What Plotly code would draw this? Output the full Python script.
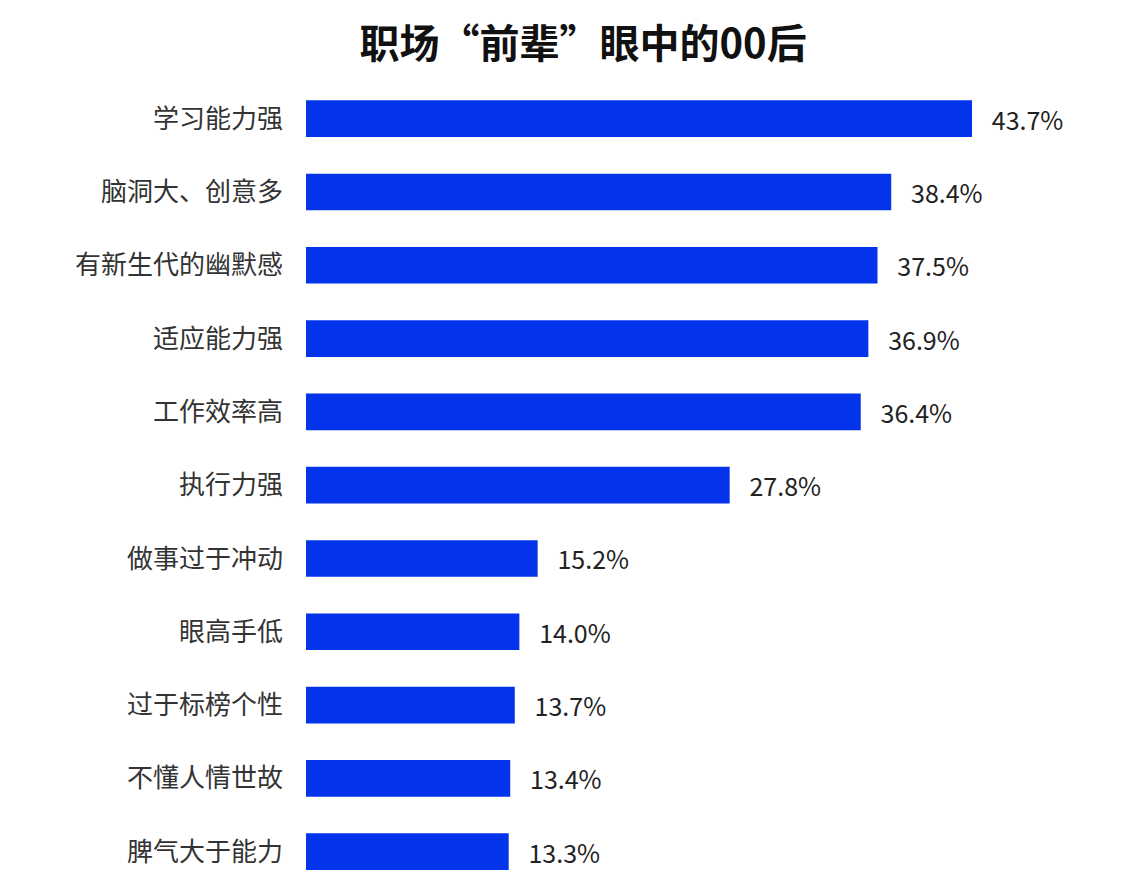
import plotly.graph_objects as go

# 职场"前辈"眼中的00后
traits = [
    "学习能力强",
    "脑洞大、创意多",
    "有新生代的幽默感",
    "适应能力强",
    "工作效率高",
    "执行力强",
    "做事过于冲动",
    "眼高手低",
    "过于标榜个性",
    "不懂人情世故",
    "脾气大于能力",
]
shares = [43.7, 38.4, 37.5, 36.9, 36.4, 27.8, 15.2, 14.0, 13.7, 13.4, 13.3]

font_cn = "Noto Sans CJK SC"

fig = go.Figure(
    go.Bar(
        x=shares,
        y=traits,
        orientation="h",
        marker=dict(color="#0433ec", line=dict(width=0)),
        text=[f"\u00a0\u00a0\u00a0{v:.1f}%" for v in shares],
        textposition="outside",
        textfont=dict(family=font_cn, size=25, color="#222222"),
        cliponaxis=False,
    )
)

fig.update_layout(
    width=1132,
    height=884,
    paper_bgcolor="white",
    plot_bgcolor="white",
    margin=dict(l=298, r=72, t=74, b=0),
    bargap=0.5,
    showlegend=False,
    title=dict(
        text="<b>职场“前辈”眼中的00后</b>",
        x=0.508,
        xref="container",
        xanchor="center",
        y=0.959,
        yref="container",
        yanchor="middle",
        font=dict(family=font_cn, size=40, color="#111111"),
    ),
    font=dict(family=font_cn),
)

fig.update_xaxes(range=[0, 50], visible=False, automargin=False)
fig.update_yaxes(
    range=[10.55, -0.5],
    automargin=False,
    showgrid=False,
    showline=False,
    zeroline=False,
    ticks="",
    ticklabelstandoff=22,
    tickfont=dict(family=font_cn, size=26, color="#333333"),
)

fig.write_html("out.html")
